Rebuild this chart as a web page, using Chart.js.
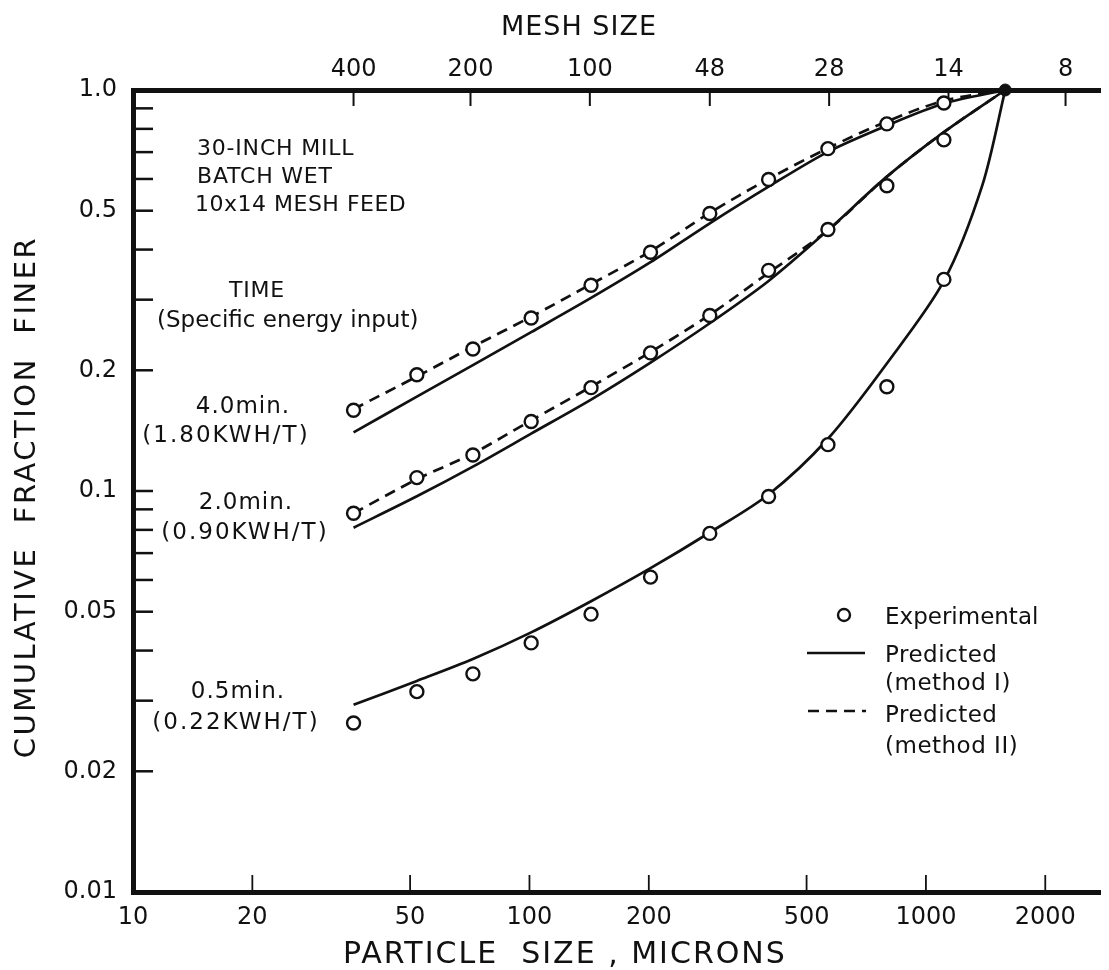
<!DOCTYPE html>
<html lang="en">
<head>
<meta charset="UTF-8">
<title>Cumulative fraction finer - 30-inch mill</title>
<script src="https://cdn.jsdelivr.net/npm/chart.js@4/dist/chart.umd.min.js"></script>
<style>
  html, body { margin: 0; padding: 0; background: #fff; }
  canvas { display: block; }
</style>
</head>
<body>
<canvas id="grafica" width="1109" height="970"></canvas>
<script>
// tamaños de partícula (micrones) de cada fracción de tamiz
const sizes = [36, 52, 72, 101, 143, 202, 285, 401, 566, 797, 1110];
const feedSize = 1585;

// puntos experimentales
const exp40 = [0.159, 0.195, 0.226, 0.270, 0.326, 0.394, 0.492, 0.598, 0.714, 0.823, 0.928];
const exp20 = [0.088, 0.108, 0.123, 0.149, 0.181, 0.221, 0.274, 0.355, 0.449, 0.577, 0.751];
const exp05 = [0.0264, 0.0316, 0.035, 0.0418, 0.0493, 0.061, 0.0784, 0.0969, 0.1305, 0.182, 0.337];

// curvas predichas
const predSizes = [36, 52, 72, 101, 143, 202, 285, 401, 566, 797, 1110, 1585];
const predSizes05 = [36, 52, 72, 101, 143, 202, 285, 401, 566, 797, 1110, 1388, 1585];
const m1_40 = [0.140, 0.172, 0.206, 0.249, 0.303, 0.372, 0.465, 0.574, 0.701, 0.815, 0.925, 1.0];
const m2_40 = [0.160, 0.193, 0.229, 0.272, 0.328, 0.396, 0.494, 0.600, 0.716, 0.835, 0.940, 1.0];
const m1_20 = [0.081, 0.097, 0.115, 0.139, 0.169, 0.209, 0.262, 0.334, 0.447, 0.608, 0.785, 1.0];
const m2_20 = [0.088, 0.107, 0.124, 0.150, 0.182, 0.222, 0.275, 0.350, 0.447, 0.608, 0.785, 1.0];
const m1_05 = [0.0293, 0.0336, 0.0381, 0.0444, 0.0531, 0.0642, 0.0788, 0.098, 0.135, 0.208, 0.334, 0.579, 1.0];

// ejes
const xTicks = [10, 20, 50, 100, 200, 500, 1000, 2000];
const xLabels = ['10', '20', '50', '100', '200', '500', '1000', '2000'];
const meshSizes = [36, 71, 142, 285, 570, 1140, 2250];
const meshLabels = ['400', '200', '100', '48', '28', '14', '8'];
const yTicks = [0.01, 0.02, 0.05, 0.1, 0.2, 0.5, 1.0];
const yLabels = ['0.01', '0.02', '0.05', '0.1', '0.2', '0.5', '1.0'];
const yMinorTicks = [0.9, 0.8, 0.7, 0.6, 0.4, 0.3, 0.09, 0.08, 0.07, 0.06, 0.04, 0.03];

const FONT = 'DejaVu Sans';
const INK = '#111';

function pares(xs, ys) {
    return ys.map((v, i) => ({ x: xs[i], y: v }));
}

function puntos(label, ys) {
    return {
        label: label, data: pares(sizes, ys), showLine: false,
        pointRadius: 6.5, pointBorderWidth: 2.4, pointBackgroundColor: '#fff',
        pointBorderColor: INK, clip: false
    };
}

function curva(label, xs, ys, dashed) {
    return {
        label: label, data: pares(xs, ys), borderColor: INK, borderWidth: 2.7,
        borderDash: dashed ? [11, 7] : [], pointRadius: 0,
        tension: 0.3, clip: false
    };
}

function fijarTicks(valores) {
    return scale => { scale.ticks = valores.map(v => ({ value: v })); };
}

// texto con espaciado entre letras
function texto(ctx, s, x, y, size, align, spacing) {
    ctx.font = size + 'px "' + FONT + '"';
    ctx.letterSpacing = (spacing || 0) + 'px';
    ctx.textAlign = align || 'left';
    ctx.textBaseline = 'middle';
    ctx.fillText(s, x, y);
}

function linea(ctx, x1, y1, x2, y2) {
    ctx.beginPath(); ctx.moveTo(x1, y1); ctx.lineTo(x2, y2); ctx.stroke();
}

const decoracion = {
    id: 'decoracion',
    beforeDatasetsDraw(chart) {
        const ctx = chart.ctx, a = chart.chartArea;
        const sx = chart.scales.x, sx2 = chart.scales.x2, sy = chart.scales.y;
        ctx.save();
        ctx.strokeStyle = INK;
        // marcas hacia dentro
        ctx.lineWidth = 2.5;
        yTicks.concat(yMinorTicks).forEach(v => {
            if (v <= 0.01 || v >= 1) return;
            const py = sy.getPixelForValue(v);
            linea(ctx, a.left, py, a.left + 20, py);
        });
        ctx.lineWidth = 1.8;
        xTicks.forEach(v => {
            if (v <= 10) return;
            const px = sx.getPixelForValue(v);
            linea(ctx, px, a.bottom, px, a.bottom - 17);
        });
        ctx.lineWidth = 2;
        meshSizes.forEach(v => {
            const px = sx2.getPixelForValue(v);
            linea(ctx, px, a.top, px, a.top + 16);
        });
        ctx.restore();
    },
    afterDraw(chart) {
        const ctx = chart.ctx;
        ctx.save();
        ctx.fillStyle = INK;
        ctx.strokeStyle = INK;
        // titulos
        texto(ctx, 'MESH SIZE', 579, 28, 27, 'center', 1);
        texto(ctx, 'PARTICLE  SIZE , MICRONS', 343, 955, 30, 'left', 2);
        ctx.save();
        ctx.translate(27, 497);
        ctx.rotate(-Math.PI / 2);
        texto(ctx, 'CUMULATIVE  FRACTION  FINER', 0, 0, 29, 'center', 2.5);
        ctx.restore();

        // notas
        texto(ctx, '30-INCH MILL', 197, 149, 22, 'left', 0.8);
        texto(ctx, 'BATCH WET', 197, 177, 22, 'left', 0.8);
        texto(ctx, '10x14 MESH FEED', 195, 205, 22, 'left', 0.5);
        texto(ctx, 'TIME', 257, 291, 22, 'center', 0.8);
        texto(ctx, '(Specific energy input)', 157, 321, 23, 'left', 0);
        texto(ctx, '4.0min.', 243, 407, 23, 'center', 1);
        texto(ctx, '(1.80KWH/T)', 226, 436, 23, 'center', 2);
        texto(ctx, '2.0min.', 246, 503, 23, 'center', 1);
        texto(ctx, '(0.90KWH/T)', 245, 533, 23, 'center', 2);
        texto(ctx, '0.5min.', 238, 692, 23, 'center', 1);
        texto(ctx, '(0.22KWH/T)', 236, 723, 23, 'center', 2);

        // leyenda
        ctx.lineWidth = 2.4;
        ctx.beginPath(); ctx.arc(844, 615, 6, 0, Math.PI * 2); ctx.stroke();
        texto(ctx, 'Experimental', 885, 618, 23, 'left', 0);
        ctx.lineWidth = 2.7;
        linea(ctx, 807, 653, 865, 653);
        texto(ctx, 'Predicted', 885, 656, 23, 'left', 0.5);
        texto(ctx, '(method I)', 885, 684, 23, 'left', 0.5);
        ctx.setLineDash([11, 7]);
        linea(ctx, 808, 711, 866, 711);
        ctx.setLineDash([]);
        texto(ctx, 'Predicted', 885, 716, 23, 'left', 0.5);
        texto(ctx, '(method II)', 885, 747, 23, 'left', 0.5);
        ctx.restore();
    }
};

const tickFont = { family: FONT, size: 24 };

new Chart(document.getElementById('grafica'), {
    type: 'line',
    data: {
        datasets: [
            puntos('Experimental 4.0 min', exp40),
            puntos('Experimental 2.0 min', exp20),
            puntos('Experimental 0.5 min', exp05),
            {
                label: 'Feed', data: [{ x: feedSize, y: 1.0 }], showLine: false,
                pointRadius: 6, pointBackgroundColor: INK, pointBorderColor: INK, clip: false
            },
            curva('Method I 4.0 min', predSizes, m1_40, false),
            curva('Method II 4.0 min', predSizes, m2_40, true),
            curva('Method I 2.0 min', predSizes, m1_20, false),
            curva('Method II 2.0 min', predSizes, m2_20, true),
            curva('Method I 0.5 min', predSizes05, m1_05, false)
        ]
    },
    options: {
        responsive: false,
        animation: false,
        layout: { padding: 0 },
        plugins: { legend: { display: false }, tooltip: { enabled: false } },
        scales: {
            x: {
                type: 'logarithmic', position: 'bottom', min: 10, max: 2750,
                afterBuildTicks: fijarTicks(xTicks),
                afterFit: s => { s.height = 78; s.paddingLeft = 0; s.paddingRight = 0; },
                ticks: {
                    autoSkip: false, maxRotation: 0, padding: 11, color: INK, font: tickFont,
                    callback: (v, i) => xLabels[i]
                },
                grid: { drawOnChartArea: false, drawTicks: false },
                border: { display: true, width: 5, color: INK }
            },
            x2: {
                type: 'logarithmic', position: 'top', min: 10, max: 2750,
                afterBuildTicks: fijarTicks(meshSizes),
                afterFit: s => { s.height = 90; s.paddingLeft = 0; s.paddingRight = 0; },
                ticks: {
                    autoSkip: false, maxRotation: 0, padding: 6, color: INK, font: tickFont,
                    callback: (v, i) => meshLabels[i]
                },
                grid: { drawOnChartArea: false, drawTicks: false },
                border: { display: true, width: 5, color: INK }
            },
            y: {
                type: 'logarithmic', position: 'left', min: 0.01, max: 1.0,
                afterBuildTicks: fijarTicks(yTicks),
                afterFit: s => { s.width = 133; s.paddingTop = 0; s.paddingBottom = 0; },
                ticks: {
                    autoSkip: false, padding: 16, color: INK, font: tickFont,
                    callback: (v, i) => yLabels[i]
                },
                grid: { drawOnChartArea: false, drawTicks: false },
                border: { display: true, width: 5, color: INK }
            }
        }
    },
    plugins: [decoracion]
});
</script>
</body>
</html>
